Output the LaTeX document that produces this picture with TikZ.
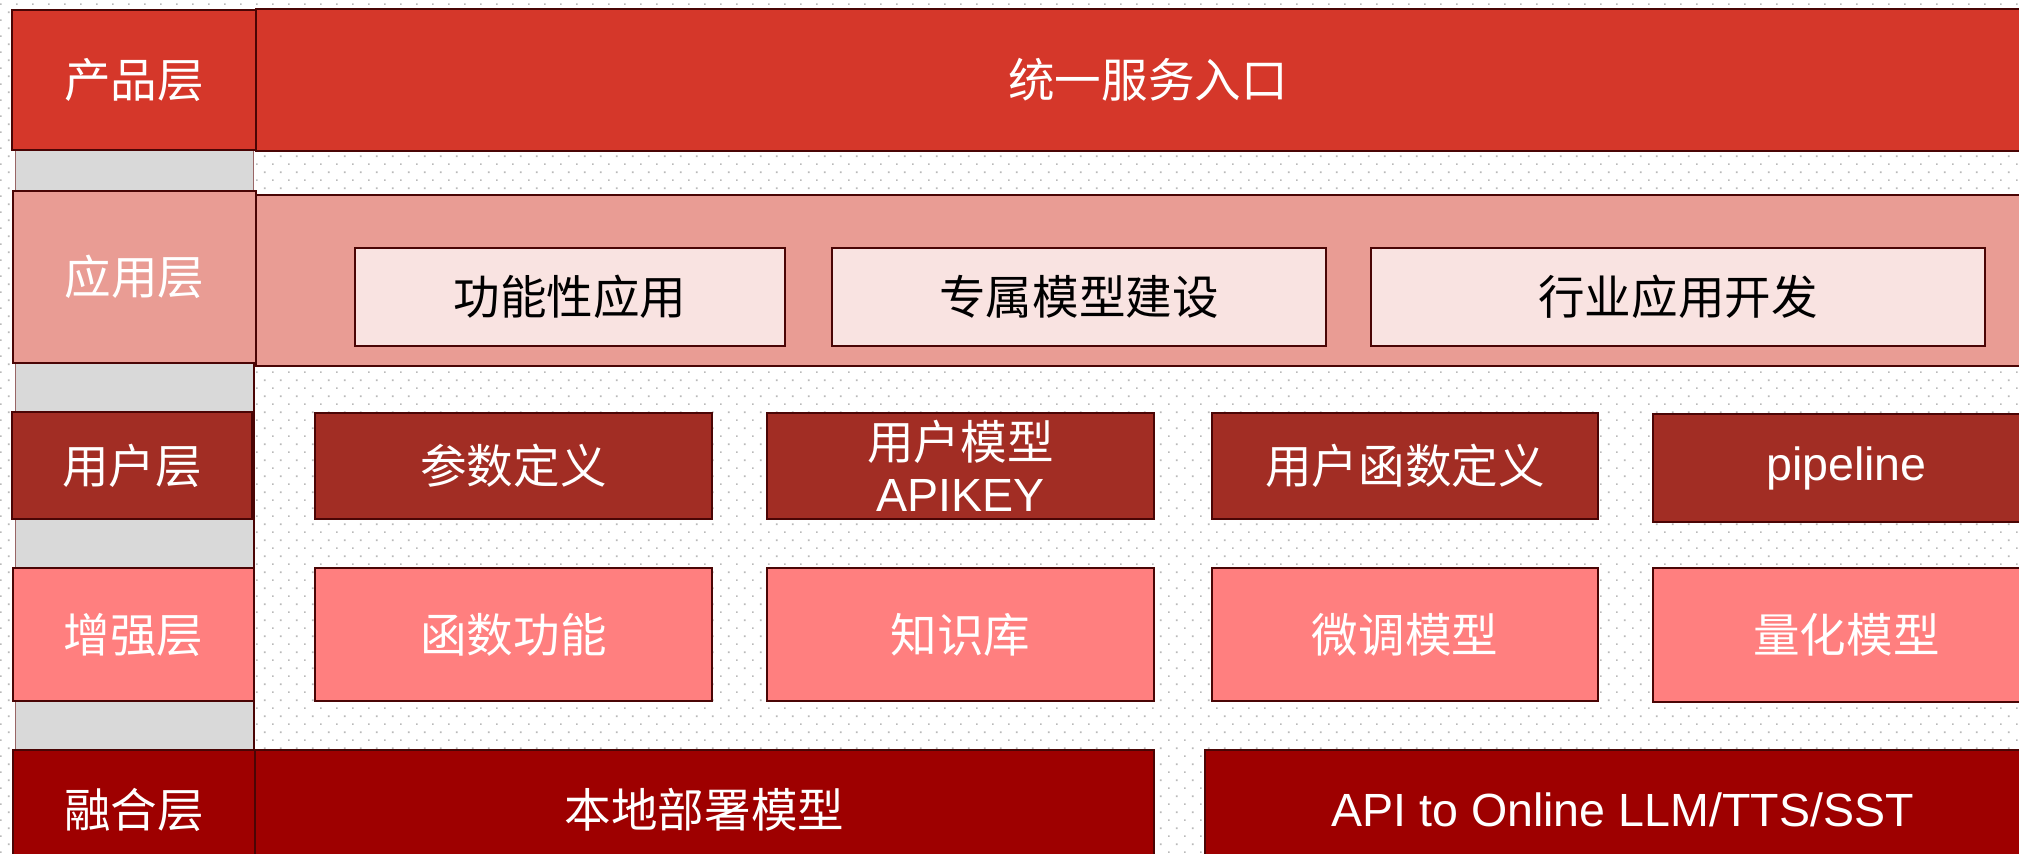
\documentclass[tikz,border=0pt]{standalone}
\usepackage{fontspec}
\setmainfont{Liberation Sans}
\newfontfamily\cjk{Noto Sans CJK SC}
\usepackage{tikz}
\usetikzlibrary{calc}
\usetikzlibrary{patterns}
\definecolor{edge}{HTML}{4A0505}
\definecolor{prodred}{HTML}{D5372A}
\definecolor{apppink}{HTML}{E99C94}
\definecolor{subpink}{HTML}{F9E3E1}
\definecolor{userred}{HTML}{A22D24}
\definecolor{enhpink}{HTML}{FF7F7F}
\definecolor{fusered}{HTML}{9E0000}
\definecolor{gapgray}{HTML}{D9D9D9}
\pgfdeclarepatternformonly{griddots}{\pgfqpoint{0pt}{0pt}}{\pgfqpoint{9.07pt}{9.07pt}}{\pgfqpoint{9.07pt}{9.07pt}}{
  \pgfpathrectangle{\pgfqpoint{0pt}{0pt}}{\pgfqpoint{0.9pt}{0.9pt}}
  \pgfpathrectangle{\pgfqpoint{4.535pt}{4.535pt}}{\pgfqpoint{0.9pt}{0.9pt}}
  \pgfusepath{fill}}
\tikzset{
  lyr/.style={draw=edge, line width=1.4pt, text=white},
  prodbox/.style={lyr, fill=prodred},
  appbox/.style={lyr, fill=apppink},
  subbox/.style={lyr, fill=subpink, text=black},
  userbox/.style={lyr, fill=userred},
  enhbox/.style={lyr, fill=enhpink},
  fusebox/.style={lyr, fill=fusered},
  gapbox/.style={draw=gray!80!red, line width=0.5pt, fill=gapgray},
}
\newcommand{\fs}{\fontsize{26.5}{29.6}\selectfont}
\newcommand{\blk}[7]{\draw[#1] (#2,#3) rectangle (#4,#5); \node[#1, draw=none, fill=none, align=center, font=\fs] (#6) at ($(#2,#3)!0.5!(#4,#5)$) {#7};}
\newcommand{\gap}[4]{\draw[gapbox] (#1,#2) rectangle (#3,#4);}

\begin{document}
\begin{tikzpicture}[x=0.02cm, y=-0.02cm]
        \useasboundingbox (0,0) rectangle (2019,853);
        \clip (0,0) rectangle (2019,853);
        \fill[white] (0,0) rectangle (2019,853);
        \fill[pattern=griddots, pattern color=gray!55] (0,0) rectangle (2019,853);
        % gaps
        \gap{15}{150}{253}{191}
        \gap{15}{363}{253}{412}
        \gap{15}{519}{253}{568}
        \gap{15}{701}{253}{750}
        \draw[draw=edge, line width=1.4pt] (254,191) -- (254,750);
        % product layer
        \blk{prodbox}{12}{10}{256}{150}{prod}{{\cjk 产品层}}
        \blk{prodbox}{256}{9}{2040}{151}{entry}{{\cjk 统一服务入口}}
        % application layer
        \blk{appbox}{13}{191}{256}{363}{app}{{\cjk 应用层}}
        \blk{appbox}{256}{195}{2040}{366}{appband}{}
        \blk{subbox}{355}{248}{785}{346}{funcapp}{{\cjk 功能性应用}}
        \blk{subbox}{832}{248}{1326}{346}{ownmodel}{{\cjk 专属模型建设}}
        \blk{subbox}{1371}{248}{1985}{346}{induapp}{{\cjk 行业应用开发}}
        % user layer
        \blk{userbox}{12}{412}{252}{519}{user}{{\cjk 用户层}}
        \blk{userbox}{315}{413}{712}{519}{params}{{\cjk 参数定义}}
        \blk{userbox}{767}{413}{1154}{519}{apikey}{{\cjk 用户模型}\\APIKEY}
        \blk{userbox}{1212}{413}{1598}{519}{userfunc}{{\cjk 用户函数定义}}
        \blk{userbox}{1653}{414}{2040}{522}{pipe}{pipeline}
        % enhancement layer
        \blk{enhbox}{13}{568}{254}{701}{enh}{{\cjk 增强层}}
        \blk{enhbox}{315}{568}{712}{701}{funcs}{{\cjk 函数功能}}
        \blk{enhbox}{767}{568}{1154}{701}{kbase}{{\cjk 知识库}}
        \blk{enhbox}{1212}{568}{1598}{701}{finetune}{{\cjk 微调模型}}
        \blk{enhbox}{1653}{568}{2040}{702}{quant}{{\cjk 量化模型}}
        % fusion layer
        \blk{fusebox}{13}{750}{255}{870}{fuse}{{\cjk 融合层}}
        \blk{fusebox}{255}{750}{1154}{870}{local}{{\cjk 本地部署模型}}
        \blk{fusebox}{1205}{750}{2040}{870}{online}{API to Online LLM/TTS/SST}
    \end{tikzpicture}
\end{document}
